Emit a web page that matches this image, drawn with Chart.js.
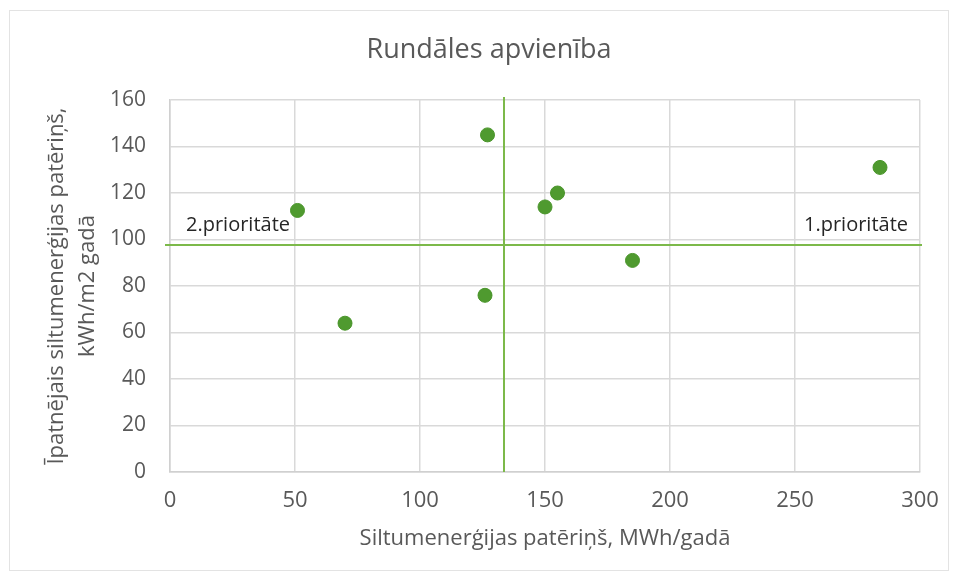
<!DOCTYPE html>
<html>
<head>
<meta charset="utf-8">
<script src="https://cdn.jsdelivr.net/npm/chart.js@4.4.1/dist/chart.umd.min.js"></script>
<style>
  html, body { margin: 0; padding: 0; background: #fff; }
  #wrap { position: relative; width: 958px; height: 580px; }
  #frame { position: absolute; left: 9px; top: 10px; width: 940px; height: 561px; border: 1px solid #e3e3e3; box-sizing: border-box; pointer-events: none; }
</style>
</head>
<body>
<div id="wrap">
  <canvas id="scatterChart" width="958" height="580"></canvas>
  <div id="frame"></div>
</div>
<script>
// ── DATA ────────────────────────────────────────────────────

const consumptionMWh = [51, 70, 126, 127, 150, 155, 185, 284];   // x
const specificKWhM2  = [112.5, 64, 76, 145, 114, 120, 91, 131];  // y

const xTicks = [0, 50, 100, 150, 200, 250, 300];
const yTicks = [0, 20, 40, 60, 80, 100, 120, 140, 160];

// priority split lines
const splitX = 133.6;
const splitY = 97.6;

const chartTitle = 'Rundāles apvienība';

const priorityLabels = [
  { text: '2.prioritāte', x: 6.4,   y: 106, align: 'left' },
  { text: '1.prioritāte', x: 295.2, y: 106, align: 'right' },
];


// ── CHART ───────────────────────────────────────────────────

const FONT = "'Open Sans', sans-serif";
const TEXT = '#595959';
const LINE_GREEN = '#7cb94a';

const points = consumptionMWh.map((x, i) => ({ x: x, y: specificKWhM2[i] }));

// title sits a bit right of the canvas centre, like in the Excel original
const titleAndLabels = {
  id: 'titleAndLabels',
  afterDatasetsDraw(chart) {
    const { ctx, scales } = chart;
    ctx.save();
    ctx.textBaseline = 'middle';

    ctx.font = '27px ' + FONT;
    ctx.fillStyle = TEXT;
    ctx.textAlign = 'center';
    ctx.fillText(chartTitle, 489, 50);

    ctx.font = '20px ' + FONT;
    ctx.fillStyle = '#262626';
    priorityLabels.forEach(l => {
      ctx.textAlign = l.align;
      ctx.fillText(l.text, scales.x.getPixelForValue(l.x), scales.y.getPixelForValue(l.y));
    });
    ctx.restore();
  }
};

new Chart(document.getElementById('scatterChart').getContext('2d'), {
  type: 'scatter',
  data: {
    datasets: [
      {
        label: 'Objekti',
        data: points,
        backgroundColor: '#4f9a2f',
        borderColor: '#4a952b',
        borderWidth: 1,
        pointRadius: 7,
        pointHoverRadius: 7,
        order: 0,
      },
      {
        label: 'horizontal',
        type: 'line',
        data: [{ x: -2, y: splitY }, { x: 300.8, y: splitY }],
        borderColor: LINE_GREEN,
        borderWidth: 2,
        pointRadius: 0,
        clip: false,
        order: 1,
      },
      {
        label: 'vertical',
        type: 'line',
        data: [{ x: splitX, y: 0 }, { x: splitX, y: 161.3 }],
        borderColor: LINE_GREEN,
        borderWidth: 2,
        pointRadius: 0,
        clip: false,
        order: 1,
      },
    ]
  },
  options: {
    responsive: false,
    animation: false,
    layout: { padding: { left: 12, right: 38, top: 100, bottom: 14 } },
    plugins: {
      legend: { display: false },
      tooltip: { enabled: false },
      title: { display: false }
    },
    scales: {
      x: {
        type: 'linear',
        min: 0,
        max: 300,
        afterBuildTicks: axis => { axis.ticks = xTicks.map(v => ({ value: v })); },
        afterFit: axis => { axis.height = 94; },
        ticks: { color: TEXT, font: { family: FONT, size: 22 }, padding: 16 },
        grid: { color: '#d9d9d9', lineWidth: 1.5, drawTicks: false },
        border: { color: '#d0d0d0', width: 1.5 },
        title: {
          display: true,
          text: 'Siltumenerģijas patēriņš, MWh/gadā',
          color: TEXT,
          font: { family: FONT, size: 22 },
          padding: { top: 10, bottom: 14 },
        }
      },
      y: {
        type: 'linear',
        min: 0,
        max: 160,
        afterBuildTicks: axis => { axis.ticks = yTicks.map(v => ({ value: v })); },
        afterFit: axis => { axis.width = 158; },
        ticks: { color: TEXT, font: { family: FONT, size: 21 }, padding: 24 },
        grid: { color: '#d9d9d9', lineWidth: 1.5, drawTicks: false },
        border: { color: '#d0d0d0', width: 1.5 },
        title: {
          display: true,
          text: ['Īpatnējais siltumenerģijas patēriņš,', 'kWh/m2 gadā'],
          color: TEXT,
          font: { family: FONT, size: 22, lineHeight: 1.4 },
          padding: { top: 29.6, bottom: 0 },
        }
      }
    }
  },
  plugins: [titleAndLabels]
});
</script>
</body>
</html>
